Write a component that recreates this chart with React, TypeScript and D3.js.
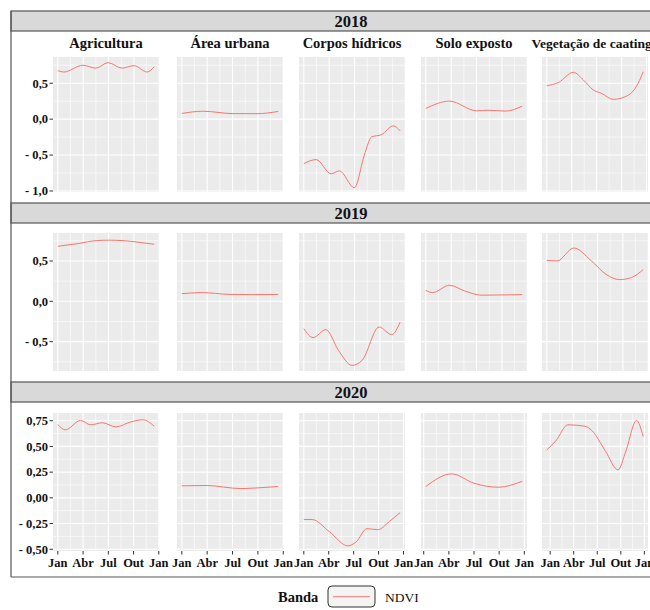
import React from 'react';
import * as d3 from 'd3';

type Pt = [number, number];

const years = ['2018', '2019', '2020'];
const categories = ['Agricultura', 'Área urbana', 'Corpos hídricos', 'Solo exposto', 'Vegetação de caatinga'];
const monthTicks = [0, 3, 6, 9, 12];
const monthLabels = ['Jan', 'Abr', 'Jul', 'Out', 'Jan'];
const yTicks2018 = [-1, -0.5, 0, 0.5];
const yTicks2019 = [-0.5, 0, 0.5];
const yTicks2020 = [-0.5, -0.25, 0, 0.25, 0.5, 0.75];
const yLabels2018 = ['- 1,0', '- 0,5', '0,0', '0,5'];
const yLabels2019 = ['- 0,5', '0,0', '0,5'];
const yLabels2020 = ['- 0,50', '- 0,25', '0,00', '0,25', '0,50', '0,75'];

// [month since Jan 1, NDVI]
const agri2018: Pt[] = [[0, 0.675], [0.71, 0.656], [2.97, 0.75], [4.51, 0.71], [5.94, 0.786], [7.6, 0.71], [9.03, 0.745], [10.57, 0.656], [11.4, 0.73]];
const urb2018: Pt[] = [[0, 0.08], [2.5, 0.11], [6.06, 0.077], [8.9, 0.076], [11.4, 0.107]];
const agua2018: Pt[] = [[0, -0.62], [1.46, -0.563], [3.23, -0.76], [4.21, -0.72], [5.98, -0.955], [7.16, -0.5], [8.02, -0.247], [9.2, -0.215], [10.58, -0.094], [11.4, -0.163]];
const solo2018: Pt[] = [[0, 0.149], [2.8, 0.251], [6.0, 0.116], [7.36, 0.124], [9.4, 0.112], [11.4, 0.18]];
const veg2018: Pt[] = [[0, 0.465], [1.4, 0.51], [3.2, 0.652], [4.4, 0.545], [5.6, 0.405], [6.6, 0.358], [8.0, 0.275], [9.4, 0.311], [10.2, 0.367], [11.0, 0.5], [11.6, 0.66]];

const agri2019: Pt[] = [[0, 0.682], [2.4, 0.716], [4.6, 0.753], [6.1, 0.758], [7.6, 0.753], [9.6, 0.732], [11.4, 0.707]];
const urb2019: Pt[] = [[0, 0.095], [2.4, 0.108], [5.6, 0.086], [8.4, 0.083], [11.4, 0.085]];
const agua2019: Pt[] = [[0, -0.339], [1.1, -0.45], [2.6, -0.351], [4.1, -0.608], [5.7, -0.794], [6.9, -0.732], [8.9, -0.319], [10.4, -0.413], [11.4, -0.257]];
const solo2019: Pt[] = [[0, 0.136], [0.8, 0.108], [2.8, 0.199], [4.6, 0.128], [6.6, 0.076], [9.0, 0.079], [11.4, 0.083]];
const veg2019: Pt[] = [[0, 0.509], [1.2, 0.5], [3.2, 0.661], [5.2, 0.509], [7.0, 0.335], [8.6, 0.269], [10.0, 0.294], [11.4, 0.393]];

const agri2020: Pt[] = [[0, 0.713], [0.9, 0.661], [2.7, 0.752], [3.9, 0.71], [5.3, 0.73], [6.9, 0.69], [8.7, 0.739], [10.1, 0.759], [11.45, 0.697]];
const urb2020: Pt[] = [[0, 0.117], [2.9, 0.12], [7.0, 0.09], [9.0, 0.097], [11.4, 0.11]];
const agua2020: Pt[] = [[0, -0.211], [1.0, -0.211], [3.1, -0.331], [5.3, -0.467], [6.3, -0.428], [7.6, -0.3], [8.9, -0.31], [10.3, -0.23], [11.6, -0.143]];
const solo2020: Pt[] = [[0.25, 0.11], [3.34, 0.233], [6.0, 0.142], [8.9, 0.103], [11.75, 0.161]];
const veg2020: Pt[] = [[-0.43, 0.467], [0.75, 0.557], [2.25, 0.71], [4.4, 0.697], [5.3, 0.655], [7.0, 0.46], [8.65, 0.272], [9.6, 0.444], [11.0, 0.752], [11.85, 0.596]];

const series: Pt[][][] = [
  [agri2018, urb2018, agua2018, solo2018, veg2018],
  [agri2019, urb2019, agua2019, solo2019, veg2019],
  [agri2020, urb2020, agua2020, solo2020, veg2020],
];
const rowTicks = [yTicks2018, yTicks2019, yTicks2020];
const rowLabels = [yLabels2018, yLabels2019, yLabels2020];
const rowDomains: [number, number][] = [[-1.014, 0.865], [-0.864, 0.847], [-0.517, 0.825]];

// layout
const colLeft = [53, 177, 299, 421, 542];
const panelW = 106;
const panelTop = [57, 233, 413];
const panelBottom = [192, 371, 551];
const stripTop = [11, 203, 382];
const stripH = 20;
const boxLeft = 11;
const boxRight = 691;
const boxBottom = 577;

const FONT = "'Liberation Serif', 'Times New Roman', serif";
const LINE = '#F8766D';

function Panel({ row, col }: { row: number; col: number }) {
  const data = series[row][col];
  const ext = d3.extent(data, (d) => d[0]) as [number, number];
  const pad = (ext[1] - ext[0]) * 0.05;
  const x0 = colLeft[col];
  const x = d3.scaleLinear().domain([ext[0] - pad, ext[1] + pad]).range([x0, x0 + panelW]);
  const y = d3.scaleLinear().domain(rowDomains[row]).range([panelBottom[row], panelTop[row]]);
  const ticks = rowTicks[row];
  const step = ticks[1] - ticks[0];
  const [yd0, yd1] = rowDomains[row];
  const yMinor: number[] = [];
  for (let v = ticks[0] - step / 2; v <= yd1; v += step) if (v >= yd0) yMinor.push(v);
  const [xd0, xd1] = x.domain();
  const tol = 0.12;
  const xMajor = monthTicks.map((m, i) => ({ m, i })).filter((o) => o.m >= xd0 - tol && o.m <= xd1 + tol);
  const xMinor = [-1.5, 1.5, 4.5, 7.5, 10.5, 13.5].filter((m) => m >= xd0 && m <= xd1);
  const line = d3.line<Pt>().x((d) => x(d[0])).y((d) => y(d[1])).curve(d3.curveMonotoneX);
  const top = panelTop[row];
  const bot = panelBottom[row];
  const clipId = `clip-${row}-${col}`;
  return (
    <g>
      <defs>
        <clipPath id={clipId}>
          <rect x={x0} y={top} width={panelW} height={bot - top} />
        </clipPath>
      </defs>
      <rect x={x0} y={top} width={panelW} height={bot - top} fill="#EBEBEB" />
      <g clipPath={`url(#${clipId})`}>
        {yMinor.map((v) => (
          <line key={'ym' + v} x1={x0} x2={x0 + panelW} y1={y(v)} y2={y(v)} stroke="#fff" strokeWidth={0.6} />
        ))}
        {xMinor.map((m) => (
          <line key={'xm' + m} x1={x(m)} x2={x(m)} y1={top} y2={bot} stroke="#fff" strokeWidth={0.6} />
        ))}
        {ticks.map((v) => (
          <line key={'yM' + v} x1={x0} x2={x0 + panelW} y1={y(v)} y2={y(v)} stroke="#fff" strokeWidth={1.1} />
        ))}
        {xMajor.map((o) => (
          <line key={'xM' + o.m} x1={x(o.m)} x2={x(o.m)} y1={top} y2={bot} stroke="#fff" strokeWidth={1.1} />
        ))}
        <path d={line(data) || ''} fill="none" stroke={LINE} strokeWidth={1} />
      </g>
      {col === 0 &&
        ticks.map((v, i) => (
          <g key={'yt' + v}>
            <line x1={x0 - 3.5} x2={x0} y1={y(v)} y2={y(v)} stroke="#333" strokeWidth={1} />
            <text x={x0 - 5} y={y(v) + 4.3} textAnchor="end" fontFamily={FONT} fontWeight="bold" fontSize={12.5} fill="#111">
              {rowLabels[row][i]}
            </text>
          </g>
        ))}
      {row === 2 &&
        xMajor.map((o) => (
          <g key={'xt' + o.m}>
            <line x1={x(o.m)} x2={x(o.m)} y1={bot} y2={bot + 3.5} stroke="#333" strokeWidth={1} />
            <text x={x(o.m)} y={bot + 16} textAnchor="middle" fontFamily={FONT} fontWeight="bold" fontSize={12.5} fill="#111">
              {monthLabels[o.i]}
            </text>
          </g>
        ))}
      {row === 0 && (
        <text
          x={x0 + panelW / 2}
          y={48}
          textAnchor="middle"
          fontFamily={FONT}
          fontWeight="bold"
          fontSize={col === 4 ? 13.5 : 14.5}
          fill="#111"
        >
          {categories[col]}
        </text>
      )}
    </g>
  );
}

export default function App() {
  return (
    <svg
      width={650}
      height={610}
      viewBox="0 0 650 610"
      style={{ position: 'absolute', left: 0, top: 0, background: '#fff' }}
    >
      <rect x={0} y={0} width={650} height={610} fill="#fff" />
      {years.map((yr, r) => (
        <g key={yr}>
          <rect x={boxLeft} y={stripTop[r]} width={boxRight - boxLeft} height={stripH} fill="#D9D9D9" stroke="#555" strokeWidth={1.2} />
          <text x={(boxLeft + boxRight) / 2} y={stripTop[r] + 15.5} textAnchor="middle" fontFamily={FONT} fontWeight="bold" fontSize={16.5} fill="#111">
            {yr}
          </text>
          {categories.map((c, ci) => (
            <Panel key={c} row={r} col={ci} />
          ))}
        </g>
      ))}
      <line x1={boxLeft} x2={boxLeft} y1={stripTop[0]} y2={boxBottom} stroke="#555" strokeWidth={1.2} />
      <line x1={boxLeft} x2={boxRight} y1={boxBottom} y2={boxBottom} stroke="#555" strokeWidth={1.2} />
      <g>
        <text x={278} y={602} fontFamily={FONT} fontWeight="bold" fontSize={14.5} fill="#111">
          Banda
        </text>
        <rect x={328} y={586} width={47} height={21} rx={4} fill="#F4F4F4" stroke="#333" strokeWidth={1} />
        <line x1={333} x2={370} y1={596.7} y2={596.7} stroke={LINE} strokeWidth={1} />
        <text x={385} y={602} fontFamily={FONT} fontSize={13.5} fill="#111">
          NDVI
        </text>
      </g>
    </svg>
  );
}
